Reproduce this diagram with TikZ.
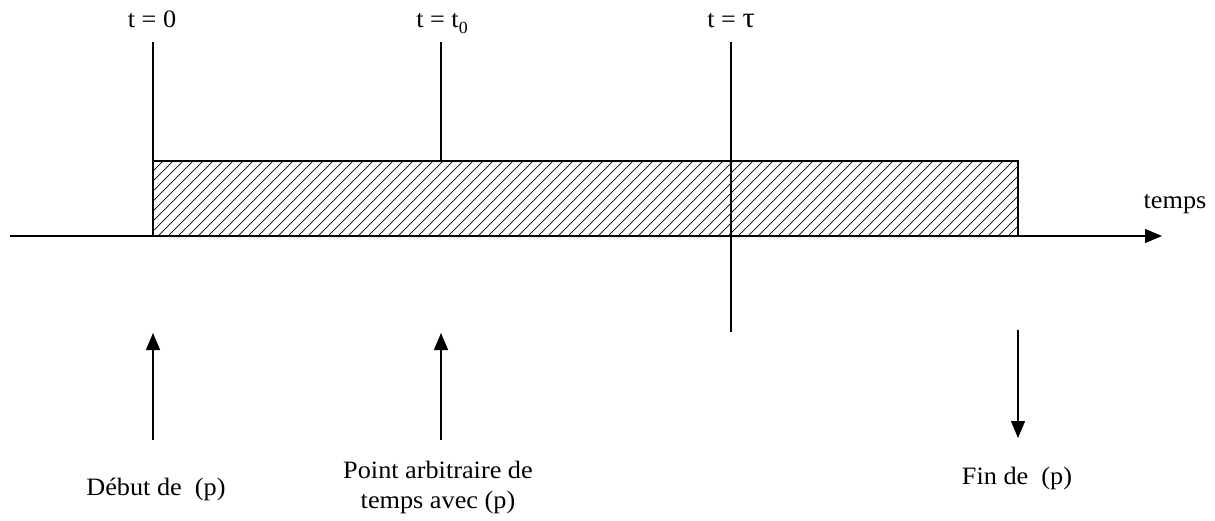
\documentclass[tikz,border=0pt]{standalone}
\usepackage{fontspec}
\setmainfont{Liberation Serif}[FakeStretch=1.05]
\usetikzlibrary{arrows.meta}
\begin{document}
\begin{tikzpicture}[x=1pt,y=-1pt,
  ln/.style={line width=1.3pt},
  arr/.style={line width=1.3pt,-{Triangle[length=17pt,width=14pt]}},
  lbl/.style={font=\fontsize{25}{30}\selectfont,inner sep=0pt,align=center,anchor=base},
  hatch/.style={line width=0.7pt}]
\useasboundingbox (0,0) rectangle (1215,520);
% coordinates
\coordinate (a0) at (153,42);
\coordinate (b0) at (441,42);
\coordinate (c0) at (731,42);
\coordinate (rtl) at (153,161);
\coordinate (rtm) at (441,161);
\coordinate (rbr) at (1018,236);
\coordinate (cb) at (731,332);
\coordinate (axs) at (10,236);
\coordinate (axe) at (1162,236);
% hatching
\begin{scope}
\clip (rtl) rectangle (rbr);
\foreach \i in {0,...,95} {
  \draw[hatch] (78+\i*10,236) -- ++(75,-75);
}
\end{scope}
\draw[ln] (rtl) rectangle (rbr);
% axis
\draw[arr] (axs) -- (axe);
% vertical lines
\draw[ln] (a0) -- (rtl);
\draw[ln] (b0) -- (rtm);
\draw[ln] (c0) -- (cb);
% top labels
\node[lbl] (l0) at (152,27) {t = 0};
\node[lbl] (l1) at (442,27) {t = t\raisebox{-0.55ex}{\fontsize{17}{17}\selectfont 0}};
\node[lbl] (l2) at (731,27) {t = {\fontsize{29}{30}\selectfont τ}};
\node[lbl] (lt) at (1175,208) {temps};
% bottom arrows
\coordinate (u1s) at (153,440); \coordinate (u1e) at (153,333);
\coordinate (u2s) at (441,440); \coordinate (u2e) at (441,333);
\coordinate (d1s) at (1018,330); \coordinate (d1e) at (1018,438);
\draw[arr] (u1s) -- (u1e);
\draw[arr] (u2s) -- (u2e);
\draw[arr] (d1s) -- (d1e);
% bottom labels
\node[lbl] (ld) at (156,495) {Début de\ \ (p)};
\node[lbl] (lp) at (438,478) {Point arbitraire de};
\node[lbl] (lp2) at (438,508) {temps avec (p)};
\node[lbl] (lf) at (1017,484) {Fin de\ \ (p)};
\end{tikzpicture}
\end{document}
